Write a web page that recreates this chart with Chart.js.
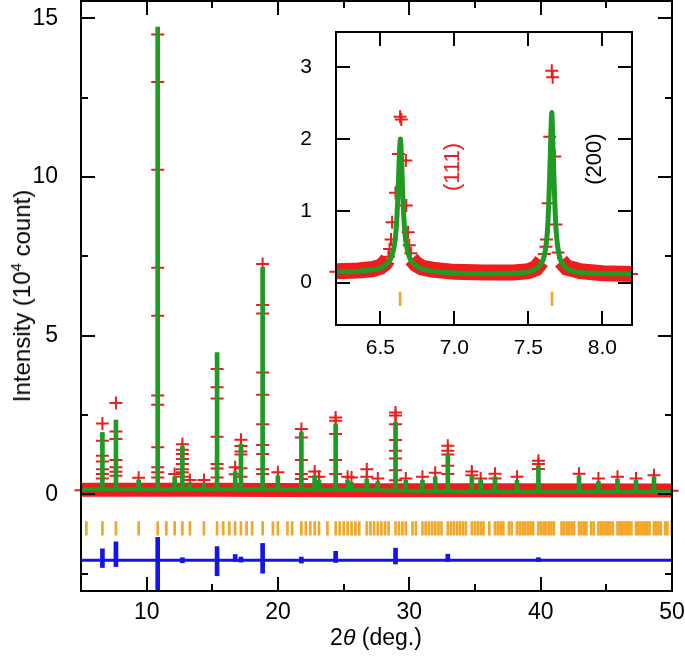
<!DOCTYPE html>
<html>
<head>
<meta charset="utf-8">
<script src="https://cdn.jsdelivr.net/npm/chart.js@4.4.1/dist/chart.umd.min.js"></script>
<style>
  html, body { margin: 0; padding: 0; background: #fff; }
  #wrap { position: relative; width: 685px; height: 656px; font-family: 'Liberation Sans', Arial, sans-serif; }
  #main { position: absolute; left: 0; top: 0; width: 685px; height: 656px; }
  #inset { position: absolute; left: 290px; top: 28px; width: 348px; height: 336px; }
  .title { position: absolute; color: #000; white-space: nowrap; line-height: 1; }
  #ytitle { font-size: 24px; left: 22px; top: 296px; transform: translate(-50%, -50%) rotate(-90deg); }
  #xtitle { font-size: 23px; left: 376px; top: 637px; transform: translate(-50%, -50%); }
  sup { font-size: 15px; vertical-align: 9px; line-height: 0; }
</style>
</head>
<body>
<div id="wrap">
  <canvas id="main" width="685" height="656"></canvas>
  <canvas id="inset" width="348" height="336"></canvas>
  <div class="title" id="ytitle">Intensity (10<sup>4</sup> count)</div>
  <div class="title" id="xtitle">2<i>θ</i> (deg.)</div>
</div>
<script>
// ---- main pattern: 2theta (deg) vs intensity (10^4 count) ----
const xTicks = [10, 20, 30, 40, 50];
const xMinor = [15, 25, 35, 45];
const yTicks = [0, 5, 10, 15];
const yMinor = [-2.5, 2.5, 7.5, 12.5];

// background level of the pattern
const bgX = [5, 15, 25, 35, 50];
const calcBg = [0.16, 0.16, 0.14, 0.08, 0.07];
const obsBg = [0.14, 0.14, 0.13, 0.13, 0.12];
const spikeFoot = 0.1;

// reflections seen as peaks
const peakPos = [6.63, 7.66, 9.39, 10.84, 12.13, 12.72, 13.29, 14.36, 15.36, 16.74, 17.18, 18.83,
  19.99, 21.78, 22.79, 23.12, 24.39, 25.30, 25.60, 26.76, 27.60, 28.95, 29.73, 31.00, 31.97,
  32.93, 34.76, 35.43, 36.52, 38.20, 39.83, 42.92, 44.40, 45.85, 47.26, 48.63];
const calcTop = [1.95, 2.34, 0.45, 14.73, 0.55, 1.51, 0.37, 0.35, 4.47, 0.71, 1.58, 7.15,
  0.58, 1.95, 0.58, 0.45, 2.21, 0.45, 0.37, 0.48, 0.40, 2.27, 0.44, 0.44, 0.55,
  1.27, 0.58, 0.45, 0.55, 0.44, 0.90, 0.58, 0.40, 0.48, 0.44, 0.55];
const obsPts = [
  [2.23, 1.69, 1.21, 1.03, 0.79, 0.64, 0.50],
  [2.88, 1.98, 1.74, 1.08, 0.85, 0.71, 0.58],
  [0.52],
  [14.49, 13.0, 10.23, 7.14, 5.63, 3.11, 2.82, 1.48, 0.85, 0.69, 0.53],
  [0.64],
  [1.58, 1.40, 1.27, 1.11, 0.95, 0.79, 0.69, 0.55],
  [0.45],
  [0.45],
  [3.95, 3.37, 3.02, 1.81, 0.95, 0.81, 0.53],
  [0.85, 0.63],
  [1.72, 1.52, 1.35, 1.25, 0.82, 0.55],
  [7.26, 5.97, 5.70, 3.84, 3.14, 2.21, 1.55, 1.27, 0.79, 0.64],
  [0.69],
  [2.06, 1.79, 1.08, 0.64, 0.48],
  [0.72, 0.55],
  [0.55],
  [2.42, 2.32, 1.90, 1.08, 0.64],
  [0.55],
  [0.53],
  [0.79, 0.55],
  [0.50],
  [2.58, 2.48, 2.21, 1.71, 1.37, 1.13, 0.76, 0.44],
  [0.50],
  [0.55],
  [0.68],
  [1.53, 1.37, 1.25, 0.90, 0.64],
  [0.72, 0.60],
  [0.50],
  [0.65, 0.50],
  [0.55],
  [1.06, 0.95, 0.80],
  [0.65],
  [0.50],
  [0.55],
  [0.50],
  [0.60]
];
const obsEdgeX = [5, 50];
const obsEdgeY = [0.13, 0.11];

// Bragg reflection markers
const braggPos = [5.41, 6.63, 7.66, 9.39, 10.84, 11.50, 12.13, 12.72, 13.29, 14.36, 15.36, 15.83,
  16.29, 16.74, 17.18, 17.61, 18.03, 18.83, 19.61, 19.99, 20.72, 21.08, 21.78, 22.12, 22.46,
  22.79, 23.12, 23.76, 24.39, 24.70, 25.00, 25.30, 25.60, 25.89, 26.19, 26.76, 27.04, 27.32,
  27.60, 27.87, 28.15, 28.42, 28.95, 29.21, 29.47, 29.73, 30.24, 30.50, 31.00, 31.24, 31.49,
  31.73, 31.97, 32.22, 32.45, 32.93, 33.16, 33.39, 33.63, 33.86, 34.09, 34.31, 34.76, 34.99,
  35.21, 35.43, 35.65, 36.09, 36.52, 36.73, 36.95, 37.16, 37.58, 37.79, 38.20, 38.41, 38.62,
  38.82, 39.02, 39.23, 39.43, 39.83, 40.03, 40.23, 40.42, 40.62, 40.82, 41.01, 41.59, 41.78,
  41.98, 42.17, 42.36, 42.55, 42.92, 43.11, 43.30, 43.48, 43.85, 44.04, 44.40, 44.59, 44.77,
  44.95, 45.13, 45.31, 45.49, 45.85, 46.03, 46.20, 46.38, 46.56, 46.73, 46.91, 47.26, 47.43,
  47.60, 47.78, 47.95, 48.12, 48.29, 48.63, 48.80, 48.97, 49.14, 49.48, 49.65, 49.98];
const braggLo = -1.29;
const braggHi = -0.86;

// difference curve (obs - calc, offset)
const diffX = [5, 50];
const diffY = [-2.08, -2.08];
const diffPos = [6.63, 7.66, 10.84, 12.72, 15.36, 16.74, 17.18, 18.83, 21.78, 24.39, 28.95, 32.93, 39.83];
const diffLo = [-2.31, -2.28, -3.10, -2.16, -2.57, -2.12, -2.14, -2.49, -2.17, -2.15, -2.20, -2.12, -2.12];
const diffHi = [-1.72, -1.50, -1.36, -2.00, -1.65, -1.90, -1.98, -1.55, -1.98, -1.80, -1.70, -1.89, -2.00];

// ---- inset: (111) and (200) ----
const inXTicks = [6.5, 7.0, 7.5, 8.0];
const inYTicks = [0, 1, 2, 3];
const inCalcX = [6.20, 6.35, 6.45, 6.50, 6.535, 6.567, 6.588, 6.600, 6.610, 6.620, 6.628, 6.635,
  6.642, 6.650, 6.660, 6.670, 6.682, 6.703, 6.735, 6.77, 6.85, 7.00, 7.20, 7.40,
  7.50, 7.558, 7.590, 7.608, 7.621, 7.631, 7.640, 7.650, 7.658, 7.666, 7.676, 7.685,
  7.695, 7.708, 7.726, 7.758, 7.82, 7.95, 8.20];
const inCalcY = [0.15, 0.16, 0.18, 0.20, 0.25, 0.32, 0.45, 0.60, 0.85, 1.30, 1.75, 2.00,
  1.75, 1.30, 0.85, 0.60, 0.45, 0.32, 0.25, 0.20, 0.16, 0.135, 0.125, 0.13,
  0.15, 0.20, 0.28, 0.38, 0.55, 0.80, 1.25, 1.90, 2.37, 1.90, 1.25, 0.80,
  0.55, 0.38, 0.28, 0.20, 0.15, 0.13, 0.12];
const inObsX = [6.20, 6.554, 6.562, 6.572, 6.579, 6.602, 6.622, 6.633, 6.641, 6.672, 6.675, 6.687, 6.695, 6.706,
  7.608, 7.618, 7.622, 7.633, 7.644, 7.658, 7.664, 7.678, 7.686, 7.700, 8.20];
const inObsY = [0.15, 0.36, 0.47, 0.60, 0.84, 1.25, 1.79, 2.31, 2.27, 1.70, 1.075, 0.70, 0.52, 0.41,
  0.40, 0.50, 0.60, 1.107, 2.03, 2.95, 2.86, 1.757, 0.81, 0.42, 0.12];
const inBandX = [6.20, 6.35, 6.45, 6.50, 6.53, 6.55, 6.63, 6.71, 6.74, 6.78, 6.85, 7.00, 7.20, 7.40,
  7.50, 7.55, 7.59, 7.66, 7.72, 7.76, 7.85, 8.00, 8.20];
const inBandY = [0.16, 0.17, 0.19, 0.22, 0.27, 0.33, null, 0.33, 0.26, 0.21, 0.18, 0.15, 0.14, 0.14,
  0.16, 0.20, 0.30, null, 0.30, 0.21, 0.16, 0.13, 0.12];
const inBragg = [6.633, 7.660];
const inBraggLo = -0.32;
const inBraggHi = -0.13;
const hklText = ['(111)', '(200)'];
const hklX = [6.99, 7.947];
const hklY = [1.61, 1.72];
const hklColor = ['#ee1c1c', '#000000'];

const RED = '#ee1c1c', GREEN = '#1f9a23', BLUE = '#1414f0', ORANGE = '#f5a629';
const FAMILY = "'Liberation Sans', Arial, sans-serif";

const frameTicks = {
  id: 'frameTicks',
  afterDatasetsDraw(chart, args, o) {
    const { ctx, chartArea: a } = chart;
    const sx = chart.scales.x, sy = chart.scales.y;
    ctx.save();
    ctx.strokeStyle = '#000';
    ctx.lineWidth = 2;
    ctx.beginPath();
    const xs = (vals, len) => vals.forEach(v => {
      const p = Math.round(sx.getPixelForValue(v));
      ctx.moveTo(p, a.bottom); ctx.lineTo(p, a.bottom - len);
      ctx.moveTo(p, a.top); ctx.lineTo(p, a.top + len);
    });
    const ys = (vals, len) => vals.forEach(v => {
      const p = Math.round(sy.getPixelForValue(v));
      ctx.moveTo(a.left, p); ctx.lineTo(a.left + len, p);
      ctx.moveTo(a.right, p); ctx.lineTo(a.right - len, p);
    });
    xs(o.xMajor, o.major); xs(o.xMinor, o.minor);
    ys(o.yMajor, o.major); ys(o.yMinor, o.minor);
    ctx.stroke();
    ctx.strokeRect(a.left, a.top, a.right - a.left, a.bottom - a.top);
    ctx.restore();
  }
};

const hklNotes = {
  id: 'hklNotes',
  afterDatasetsDraw(chart) {
    const { ctx } = chart;
    const sx = chart.scales.x, sy = chart.scales.y;
    ctx.save();
    ctx.font = '22px ' + FAMILY;
    ctx.textAlign = 'center';
    ctx.textBaseline = 'middle';
    hklText.forEach((t, i) => {
      ctx.save();
      ctx.translate(sx.getPixelForValue(hklX[i]), sy.getPixelForValue(hklY[i]));
      ctx.rotate(-Math.PI / 2);
      ctx.fillStyle = hklColor[i];
      ctx.fillText(t, 0, 0);
      ctx.restore();
    });
    ctx.restore();
  }
};

const obsCross = [];
peakPos.forEach((x, i) => obsPts[i].forEach(v => obsCross.push({ x: x, y: v })));
obsEdgeX.forEach((x, i) => obsCross.push({ x: x, y: obsEdgeY[i] }));

const pairs = (xs, ys) => xs.map((x, i) => ({ x: x, y: ys[i] }));

function axisOpts(min, max, ticks, size, pad, fit, fmt) {
  return {
    type: 'linear', min: min, max: max, offset: false,
    grid: { display: false }, border: { display: false },
    afterBuildTicks: s => { s.ticks = ticks.map(v => ({ value: v })); },
    afterFit: fit,
    ticks: {
      color: '#000', font: { family: FAMILY, size: size }, padding: pad,
      autoSkip: false, maxRotation: 0, callback: fmt
    }
  };
}

new Chart(document.getElementById('main'), {
  type: 'line',
  data: {
    datasets: [
      { type: 'bar', order: 1, grouped: false, barThickness: 4, backgroundColor: GREEN,
        data: peakPos.map((x, i) => ({ x: x, y: [spikeFoot, calcTop[i]] })) },
      { type: 'line', order: 2, data: pairs(bgX, calcBg), borderColor: GREEN, borderWidth: 4,
        pointRadius: 0, clip: 0 },
      { type: 'scatter', order: 3, data: obsCross, pointStyle: 'cross', pointRadius: 6.5,
        borderColor: RED, borderWidth: 2, clip: false },
      { type: 'line', order: 4, data: pairs(bgX, obsBg), borderColor: RED, borderWidth: 14,
        pointRadius: 0, clip: 0 },
      { type: 'bar', order: 5, grouped: false, barThickness: 2, backgroundColor: ORANGE,
        data: braggPos.map(x => ({ x: x, y: [braggLo, braggHi] })) },
      { type: 'bar', order: 6, grouped: false, barThickness: 4, backgroundColor: BLUE, clip: 0,
        data: diffPos.map((x, i) => ({ x: x, y: [diffLo[i], diffHi[i]] })) },
      { type: 'line', order: 7, data: pairs(diffX, diffY), borderColor: BLUE, borderWidth: 3,
        pointRadius: 0, clip: 0 }
    ]
  },
  options: {
    responsive: false, animation: false, events: [],
    layout: { autoPadding: false, padding: { top: 1, right: 13, left: 0, bottom: 0 } },
    plugins: {
      legend: { display: false }, tooltip: { enabled: false },
      frameTicks: { xMajor: xTicks, xMinor: xMinor, yMajor: yTicks, yMinor: yMinor, major: 14, minor: 7 }
    },
    scales: {
      x: axisOpts(5, 50, xTicks, 23, 0, s => { s.height = 65; s.paddingLeft = 0; s.paddingRight = 0; }),
      y: axisOpts(-3.05, 15.55, yTicks, 23, 15, s => { s.width = 81; s.paddingTop = 0; s.paddingBottom = 0; })
    }
  },
  plugins: [frameTicks]
});

new Chart(document.getElementById('inset'), {
  type: 'line',
  data: {
    datasets: [
      { type: 'line', order: 1, data: pairs(inCalcX, inCalcY), borderColor: GREEN, borderWidth: 5,
        pointRadius: 0, cubicInterpolationMode: 'monotone', clip: 0 },
      { type: 'scatter', order: 2, data: pairs(inObsX, inObsY), pointStyle: 'cross', pointRadius: 6.5,
        borderColor: RED, borderWidth: 2, clip: false },
      { type: 'line', order: 3, data: pairs(inBandX, inBandY), borderColor: RED, borderWidth: 16,
        pointRadius: 0, spanGaps: false, clip: 0 },
      { type: 'bar', order: 4, grouped: false, barThickness: 2, backgroundColor: ORANGE,
        data: inBragg.map(x => ({ x: x, y: [inBraggLo, inBraggHi] })) }
    ]
  },
  options: {
    responsive: false, animation: false, events: [],
    layout: { autoPadding: false, padding: { top: 4, right: 6, left: 0, bottom: 0 } },
    plugins: {
      legend: { display: false }, tooltip: { enabled: false },
      frameTicks: { xMajor: inXTicks, xMinor: [], yMajor: inYTicks, yMinor: [], major: 14, minor: 7 }
    },
    scales: {
      x: axisOpts(6.2, 8.2, inXTicks, 21, 3, s => { s.height = 39; s.paddingLeft = 0; s.paddingRight = 0; },
        v => v.toFixed(1)),
      y: axisOpts(-0.59, 3.49, inYTicks, 21, 16, s => { s.width = 46; s.paddingTop = 0; s.paddingBottom = 0; })
    }
  },
  plugins: [frameTicks, hklNotes]
});
</script>
</body>
</html>
